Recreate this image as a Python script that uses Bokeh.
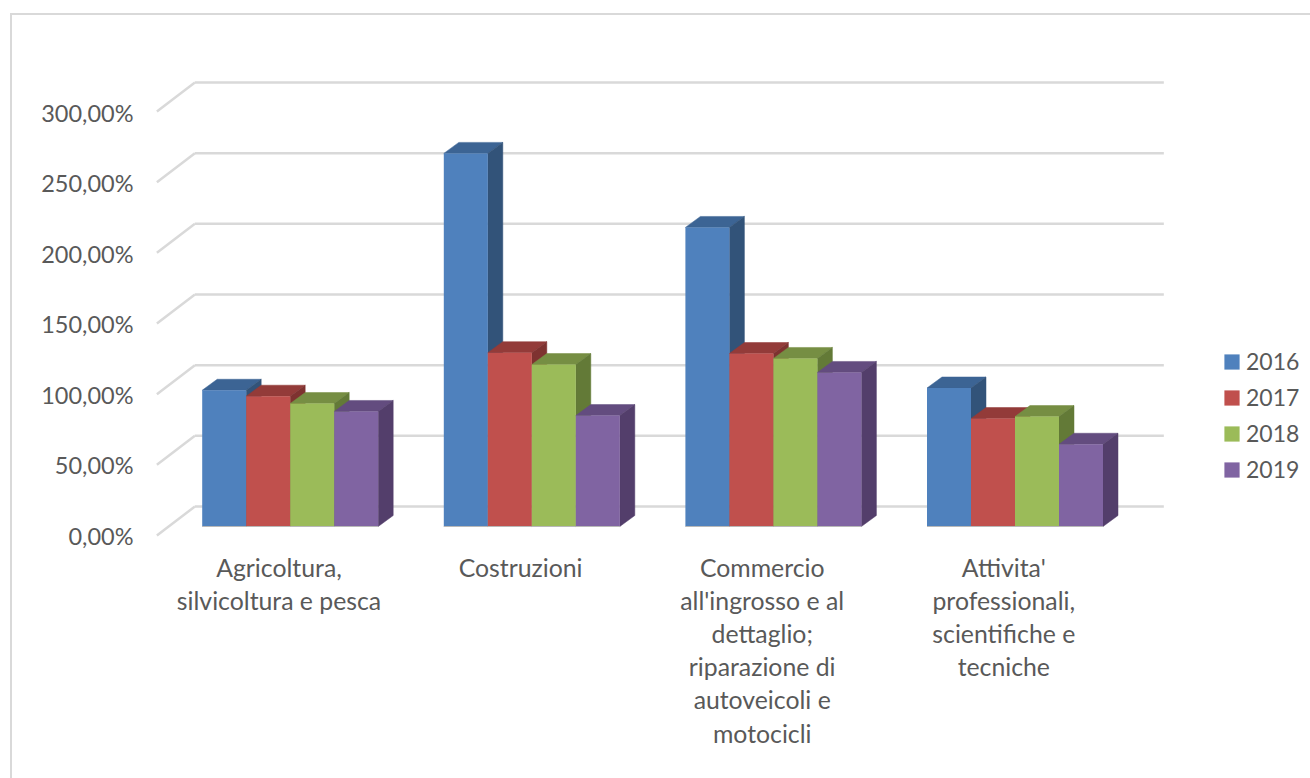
from bokeh.plotting import figure
from bokeh.embed import file_html
from bokeh.resources import INLINE
from bokeh.models import Range1d, LinearAxis, FixedTicker, Legend, LegendItem

# ---- data ----
categories = ["Agricoltura,\nsilvicoltura e pesca",
              "Costruzioni",
              "Commercio\nall'ingrosso e al\ndettaglio;\nriparazione di\nautoveicoli e\nmotocicli",
              "Attivita'\nprofessionali,\nscientifiche e\ntecniche"]
years = ["2016", "2017", "2018", "2019"]
v2016 = [96.4, 264.0, 211.6, 98.0]
v2017 = [92.2, 123.0, 122.4, 76.4]
v2018 = [87.0, 114.6, 118.9, 77.8]
v2019 = [81.4, 78.5, 109.0, 58.2]
series = [v2016, v2017, v2018, v2019]
y_ticks = [0, 50, 100, 150, 200, 250, 300]
y_labels = ["0,00%", "50,00%", "100,00%", "150,00%", "200,00%", "250,00%", "300,00%"]

# ---- style ----
front = ["#4f81bd", "#c0504d", "#9bbb59", "#8064a2"]
top = ["#3c6494", "#933b39", "#768e43", "#634c7f"]
side = ["#325379", "#7e3230", "#637a37", "#533e6b"]
TEXT = "#595959"
GRID = "#d9d9d9"
FONT = "Lato"

# ---- geometry of the pseudo-3D view ----
W, H = 1310, 778
LEFT, FRAME_B = 140, 545
BOTTOM = H - FRAME_B
PX_X = 241.6     # pixels per category
PX_Y = 1.4133    # pixels per percent point
BAR = 44 / PX_X
DX = 15 / PX_X   # depth of a bar
DY = 11 / PX_Y
WALL_DX = 38 / PX_X
BACK_DY = 20 / PX_Y    # back wall above the bar base
FRONT_DY = -9 / PX_Y   # front wall edge below the bar base
X0 = (289.7 - LEFT) / PX_X   # first group's centre, measured from the frame's left
frame_w = W - LEFT
BASE = 526 / PX_Y  # frame top above the bar base

p = figure(width=W, height=H, output_backend="svg", toolbar_location=None,
           x_range=Range1d(-X0, frame_w / PX_X - X0),
           y_range=Range1d(BASE - FRAME_B / PX_Y, BASE),
           min_border_left=LEFT, min_border_right=0, min_border_top=0, min_border_bottom=BOTTOM,
           background_fill_color=None, border_fill_color=None, outline_line_color=None,
           x_axis_location=None, y_axis_location=None)
p.grid.visible = False

# outer chart border (top and left edges of the chart area)
p.styles = {
    "background-color": "white",
    "background-image": f"linear-gradient({GRID},{GRID}),linear-gradient({GRID},{GRID})",
    "background-size": f"{W}px 2px, 2px {H}px",
    "background-position": "10px 13px, 10px 13px",
    "background-repeat": "no-repeat",
}

# walls: horizontal gridlines on the back, slanted ones on the side
wall_back = -0.3945
wall_front = wall_back - WALL_DX
wall_right = 3.616
back_y = [t + BACK_DY for t in y_ticks]
p.segment(x0=[wall_back] * 7, y0=back_y, x1=[wall_right] * 7, y1=back_y,
          line_color=GRID, line_width=2.5)
p.segment(x0=[wall_front] * 7, y0=[t + FRONT_DY for t in y_ticks], x1=[wall_back] * 7, y1=back_y,
          line_color=GRID, line_width=2.5)

# bars
legend_items = []
for s, vals in enumerate(series):
    lefts = [i + (s - 2) * BAR for i in range(len(vals))]
    rights = [l + BAR for l in lefts]
    p.patches(xs=[[l, r, r + DX, l + DX] for l, r in zip(lefts, rights)],
              ys=[[v, v, v + DY, v + DY] for v in vals],
              fill_color=top[s], line_color=top[s], line_width=0.5)
    p.patches(xs=[[r, r + DX, r + DX, r] for r in rights],
              ys=[[0, DY, v + DY, v] for v in vals],
              fill_color=side[s], line_color=side[s], line_width=0.5)
    q = p.quad(left=lefts, right=rights, bottom=0, top=vals,
               fill_color=front[s], line_color=None)
    legend_items.append(LegendItem(label=years[s], renderers=[q]))
    p.segment(x0=lefts, y0=[0] * 4, x1=rights, y1=[0] * 4, line_color="#b8b8b8", line_width=1)

# y axis (labels sit on the front edge of the side wall)
p.extra_y_ranges["labels"] = Range1d(-(FRAME_B - 535) / 1.41, 535 / 1.41)
ya = LinearAxis(y_range_name="labels", ticker=FixedTicker(ticks=y_ticks),
                major_label_overrides=dict(zip(y_ticks, y_labels)),
                axis_line_color=None, major_tick_line_color=None, minor_tick_line_color=None,
                major_tick_out=0, major_tick_in=0,
                major_label_text_font=FONT, major_label_text_font_size="23.5px",
                major_label_text_color=TEXT, major_label_standoff=7)
p.add_layout(ya, "left")

# x axis (labels are centred a little left of each group)
cat_shift = 11.2 / PX_X
p.extra_x_ranges["cats"] = Range1d(-X0 + cat_shift, frame_w / PX_X - X0 + cat_shift)
xa = LinearAxis(x_range_name="cats", ticker=FixedTicker(ticks=list(range(len(categories)))),
                major_label_overrides=dict(enumerate(categories)),
                axis_line_color=None, major_tick_line_color=None, minor_tick_line_color=None,
                major_tick_out=0, major_tick_in=0,
                major_label_text_font=FONT, major_label_text_font_size="24.8px",
                major_label_text_color=TEXT, major_label_standoff=7,
                major_label_orientation="horizontal")
xa.major_label_text_line_height = 1.145
p.add_layout(xa, "below")

legend = Legend(items=legend_items, location=(1222 - LEFT, FRAME_B - 483),
                orientation="vertical", background_fill_alpha=0, border_line_color=None,
                padding=0, margin=0, spacing=8, glyph_width=19, glyph_height=19,
                label_standoff=5, label_text_font=FONT, label_text_font_size="23px",
                label_text_color=TEXT, label_height=28)
p.add_layout(legend, "center")

open("out.html", "w").write(file_html(p, INLINE))
